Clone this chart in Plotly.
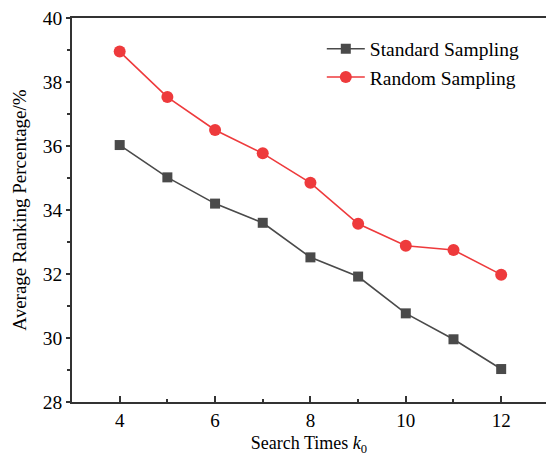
import plotly.graph_objects as go

k0 = [4, 5, 6, 7, 8, 9, 10, 11, 12]
standard = [36.03, 35.02, 34.20, 33.60, 32.52, 31.92, 30.77, 29.96, 29.03]
random_s = [38.95, 37.53, 36.50, 35.77, 34.85, 33.57, 32.88, 32.75, 31.98]

FONT = "Liberation Serif, Times New Roman, serif"

fig = go.Figure()
fig.add_trace(go.Scatter(
    x=k0, y=standard, mode="lines+markers", name="Standard Sampling",
    line=dict(color="#4a4a4a", width=1.6),
    marker=dict(symbol="square", size=10, color="#4a4a4a"),
))
fig.add_trace(go.Scatter(
    x=k0, y=random_s, mode="lines+markers", name="Random Sampling",
    line=dict(color="#ee3a3c", width=1.6),
    marker=dict(symbol="circle", size=12, color="#ee3a3c"),
))

fig.update_layout(
    width=547, height=457,
    margin=dict(l=72, r=1, t=18, b=55),
    paper_bgcolor="white", plot_bgcolor="white",
    font=dict(family=FONT, size=19, color="black"),
    showlegend=True,
    legend=dict(x=0.527, y=0.97, xanchor="left", yanchor="top",
                bgcolor="rgba(0,0,0,0)", font=dict(size=19.5, family=FONT),
                tracegroupgap=0, itemwidth=38),
)
fig.update_xaxes(
    range=[3, 12.94], tickvals=[4, 6, 8, 10, 12],
    ticks="inside", ticklen=6, tickwidth=1.5, tickcolor="#333",
    minor=dict(tickvals=[5, 7, 9, 11], ticks="inside", ticklen=3, tickwidth=1.5, tickcolor="#333"),
    showline=True, linecolor="#333", linewidth=1.5, mirror=True,
    showgrid=False, zeroline=False,
    title=dict(text="Search Times <i>k</i><sub>0</sub>", font=dict(size=18, family=FONT), standoff=7),
    tickfont=dict(size=19, family=FONT),
)
fig.update_yaxes(
    range=[28, 40], tickvals=[28, 30, 32, 34, 36, 38, 40],
    ticks="outside", ticklen=4, tickwidth=1.5, tickcolor="#333",
    minor=dict(tickvals=[29, 31, 33, 35, 37, 39], ticks="outside", ticklen=3, tickwidth=1.5, tickcolor="#333"),
    showline=True, linecolor="#333", linewidth=1.5, mirror=False,
    showgrid=False, zeroline=False,
    title=dict(text="Average Ranking Percentage/%", font=dict(size=19, family=FONT), standoff=11),
    tickfont=dict(size=19.5, family=FONT),
)

fig.write_html("out.html", config={"displayModeBar": False},
               post_script="document.body.style.margin='0';document.body.style.overflow='hidden';")
